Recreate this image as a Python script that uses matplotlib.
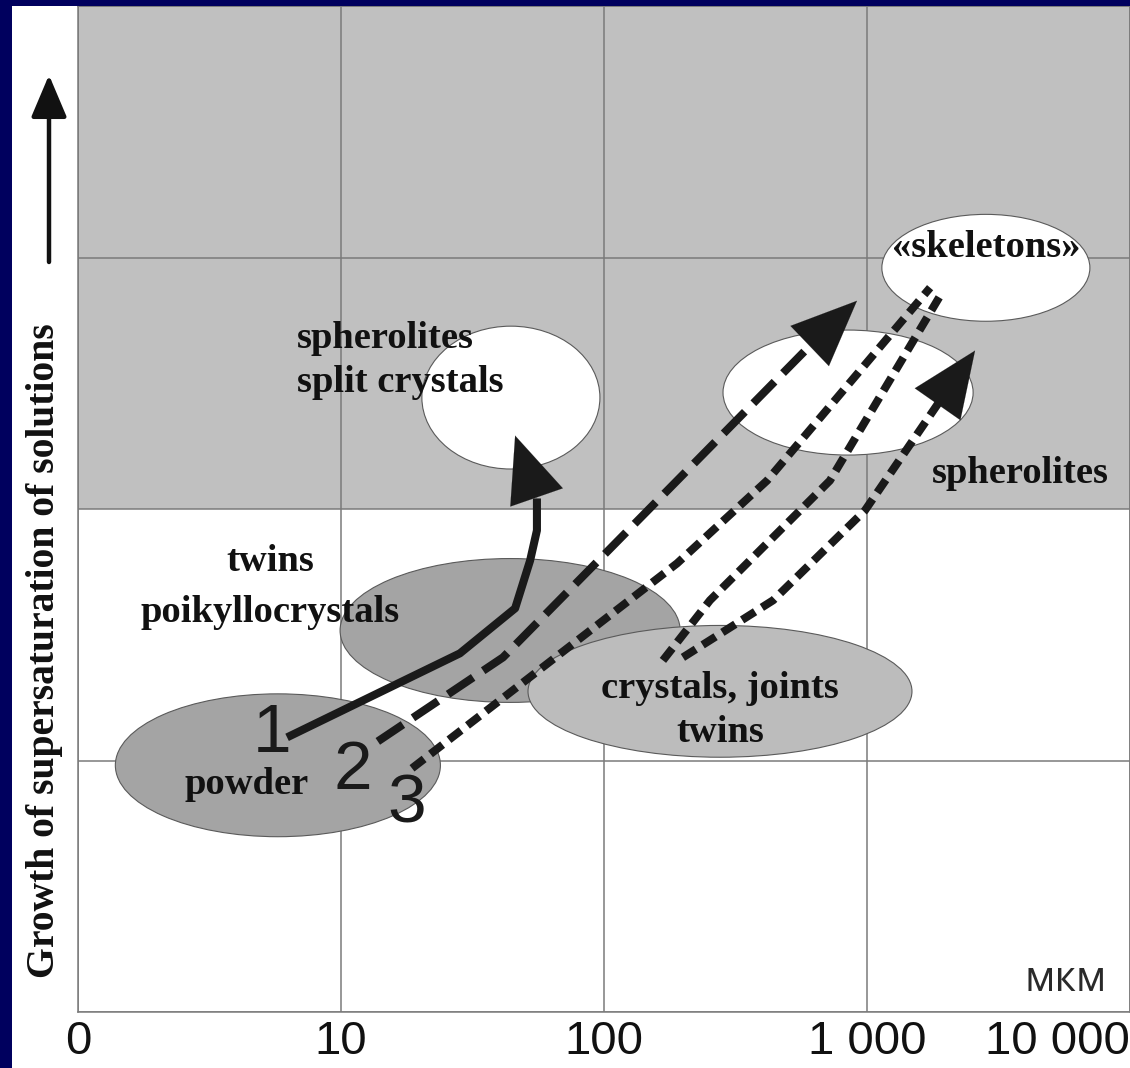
import matplotlib
matplotlib.use("Agg")
import matplotlib.pyplot as plt
from matplotlib.patches import Ellipse, Rectangle, FancyArrowPatch

# ---------------- data ----------------
decade_positions = [0, 1, 2, 3, 4]
decade_labels = ["0", "10", "100", "1 000", "10 000"]
row_positions = [0, 1, 2, 3, 4]
high_band = (2, 4)          # shaded band of high supersaturation

# crystal-form regions (centre x, centre y, width, height) in decade / row units
region_labels = ["powder", "twins\npoikyllocrystals", "crystals, joints\ntwins",
                 "spherolites\nsplit crystals", "spherolites", "«skeletons»"]
region_cx = [0.760, 1.643, 2.441, 1.646, 2.928, 3.452]
region_cy = [0.981, 1.517, 1.275, 2.443, 2.463, 2.959]
region_w = [1.236, 1.293, 1.460, 0.677, 0.951, 0.791]
region_h = [0.568, 0.572, 0.524, 0.568, 0.497, 0.425]
region_fill = ["#a4a4a4", "#a4a4a4", "#bcbcbc", "white", "white", "white"]
region_label_x = [0.643, 0.730, 2.441, 0.833, 3.582, 3.452]
region_label_y = [0.905, 1.690, 1.200, 2.590, 2.140, 3.040]
region_label_ha = ["center", "center", "center", "left", "center", "center"]
region_label_ma = ["center", "center", "center", "left", "center", "center"]
region_label_ls = [1.0, 1.59, 1.32, 1.32, 1.0, 1.0]

# growth paths
path1_x = [0.795, 1.452, 1.662, 1.719, 1.745, 1.745]
path1_y = [1.092, 1.426, 1.605, 1.795, 1.915, 2.042]
path1_tip = (1.662, 2.292)

path2_x = [1.140, 1.616, 2.783]
path2_y = [1.076, 1.410, 2.649]
path2_tip = (2.962, 2.828)

path3a_x = [1.270, 2.278, 2.620, 3.240]
path3a_y = [0.969, 1.784, 2.113, 2.880]
path3b_x = [2.224, 2.403, 2.859, 3.285]
path3b_y = [1.398, 1.637, 2.113, 2.860]
path3c_x = [2.300, 2.643, 2.992, 3.278]
path3c_y = [1.410, 1.637, 1.994, 2.431]
path3c_tip = (3.411, 2.630)

path_numbers = ["1", "2", "3"]
path_number_x = [0.738, 1.046, 1.251]
path_number_y = [1.105, 0.958, 0.827]

# ---------------- figure ----------------
W, H = 1130, 1068
fig = plt.figure(figsize=(W / 100, H / 100), dpi=100, facecolor="white")
navy = "#00005e"
fig.patches.append(Rectangle((0, 0), 12 / W, 1, transform=fig.transFigure,
                             facecolor=navy, edgecolor="none", zorder=0))
fig.patches.append(Rectangle((0, 1 - 6 / H), 1, 6 / H, transform=fig.transFigure,
                             facecolor=navy, edgecolor="none", zorder=0))

ax = fig.add_axes([78 / W, 1 - 1012 / H, 1052 / W, 1006 / H])
ax.set_xlim(decade_positions[0], decade_positions[-1])
ax.set_ylim(row_positions[0], row_positions[-1])
ax.set_facecolor("white")

ax.axhspan(high_band[0], high_band[1], facecolor="#c0c0c0", edgecolor="none", zorder=0)

gridc = "#7a7a7a"
ax.set_xticks(decade_positions)
ax.set_yticks(row_positions)
ax.grid(True, color=gridc, lw=1.1, zorder=0.5)
ax.set_axisbelow(True)
for s in ax.spines.values():
    s.set_color(gridc)
    s.set_linewidth(1.1)
ax.tick_params(length=0, pad=6)
ax.set_yticklabels([])
ax.set_xticklabels(decade_labels, fontfamily="Liberation Sans", fontsize=34, color="#111111")
ticklabels = ax.get_xticklabels()
ticklabels[-1].set_ha("right")

serif = dict(fontfamily="Liberation Serif", fontweight="bold", color="#111111", fontsize=27.7)

for cx, cy, w, h, fc in zip(region_cx, region_cy, region_w, region_h, region_fill):
    ax.add_patch(Ellipse((cx, cy), w, h, facecolor=fc, edgecolor="#5a5a5a", lw=0.8, zorder=2))

for lab, x, y, ha, ma, ls in zip(region_labels, region_label_x, region_label_y,
                                 region_label_ha, region_label_ma, region_label_ls):
    ax.text(x, y, lab, ha=ha, va="center", multialignment=ma,
            linespacing=ls, zorder=5, **serif)

lc = "#1a1a1a"
lw = 5.8
ax.plot(path1_x, path1_y, color=lc, lw=lw, solid_capstyle="butt", solid_joinstyle="round", zorder=3)
ax.plot(path2_x, path2_y, color=lc, lw=lw, ls=(0, (3.75, 1.5)), dash_capstyle="butt", zorder=3)
for px, py in [(path3a_x, path3a_y), (path3b_x, path3b_y), (path3c_x, path3c_y)]:
    ax.plot(px, py, color=lc, lw=lw, ls=(0, (1.9, 1.0)), dash_capstyle="butt", zorder=3)


def head(base, tip):
    ax.annotate("", xy=tip, xytext=base,
                arrowprops=dict(arrowstyle="-|>,head_length=47,head_width=20",
                                mutation_scale=1, shrinkA=0, shrinkB=0,
                                color=lc, lw=0.1), zorder=4)


head((path1_x[-1], path1_y[-1]), path1_tip)
head((path2_x[-1], path2_y[-1]), path2_tip)
head((path3c_x[-1], path3c_y[-1]), path3c_tip)

for t, x, y in zip(path_numbers, path_number_x, path_number_y):
    ax.text(x, y, t, ha="center", va="center", fontfamily="Liberation Sans",
            fontsize=50, color="#1a1a1a", zorder=5)

ax.text(3.757, 0.127, "мкм", ha="center", va="center", fontfamily="Open Sans",
        fontsize=30, color="#2a2a2a", zorder=5)

# y-axis label and arrow
fig.text(45 / W, 1 - 651 / H, "Growth of supersaturation of solutions", rotation=90,
         ha="center", va="center", fontfamily="Liberation Serif", fontweight="bold",
         fontsize=28.5, color="#111111")
fig.add_artist(FancyArrowPatch(
    (49 / W, 1 - 262 / H), (49 / W, 1 - 75 / H), transform=fig.transFigure,
    arrowstyle="-|>,head_length=26,head_width=11", mutation_scale=1,
    shrinkA=0, shrinkB=0, color="#111111", lw=3.2))

fig.savefig("out.png", dpi=100, facecolor="white")
